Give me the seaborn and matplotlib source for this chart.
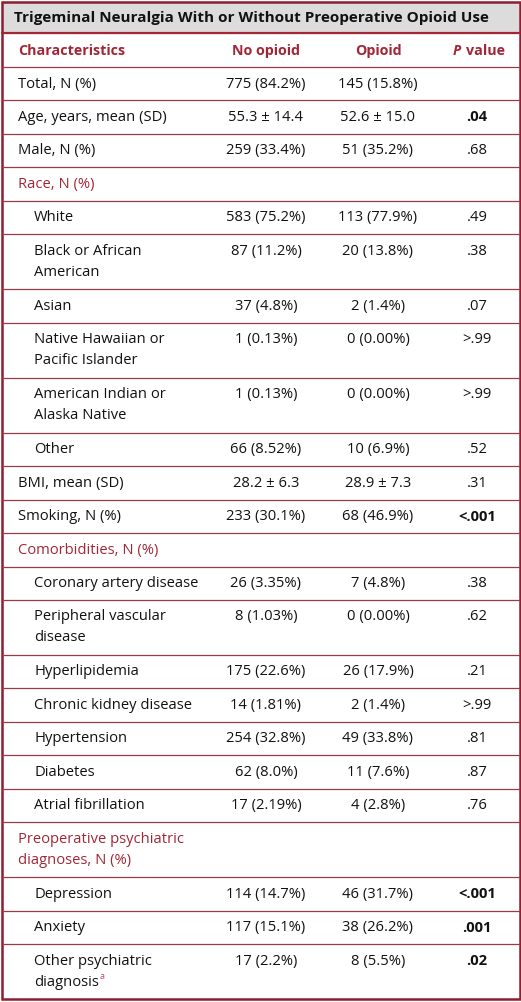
import matplotlib
matplotlib.use("Agg")
import matplotlib.pyplot as plt
import seaborn as sns

title = "Trigeminal Neuralgia With or Without Preoperative Opioid Use"
headers = ["Characteristics", "No opioid", "Opioid", "value"]

characteristics = [
    "Total, N (%)", "Age, years, mean (SD)", "Male, N (%)", "Race, N (%)",
    "White", "Black or African\nAmerican", "Asian",
    "Native Hawaiian or\nPacific Islander", "American Indian or\nAlaska Native",
    "Other", "BMI, mean (SD)", "Smoking, N (%)", "Comorbidities, N (%)",
    "Coronary artery disease", "Peripheral vascular\ndisease", "Hyperlipidemia",
    "Chronic kidney disease", "Hypertension", "Diabetes", "Atrial fibrillation",
    "Preoperative psychiatric\ndiagnoses, N (%)", "Depression", "Anxiety",
    "Other psychiatric\ndiagnosis",
]
row_kind = [
    "main", "main", "main", "section",
    "sub", "sub", "sub", "sub", "sub", "sub",
    "main", "main", "section",
    "sub", "sub", "sub", "sub", "sub", "sub", "sub",
    "section", "sub", "sub", "sub",
]
no_opioid = [
    "775 (84.2%)", "55.3 ± 14.4", "259 (33.4%)", "",
    "583 (75.2%)", "87 (11.2%)", "37 (4.8%)", "1 (0.13%)", "1 (0.13%)",
    "66 (8.52%)", "28.2 ± 6.3", "233 (30.1%)", "",
    "26 (3.35%)", "8 (1.03%)", "175 (22.6%)", "14 (1.81%)", "254 (32.8%)",
    "62 (8.0%)", "17 (2.19%)", "", "114 (14.7%)", "117 (15.1%)", "17 (2.2%)",
]
opioid = [
    "145 (15.8%)", "52.6 ± 15.0", "51 (35.2%)", "",
    "113 (77.9%)", "20 (13.8%)", "2 (1.4%)", "0 (0.00%)", "0 (0.00%)",
    "10 (6.9%)", "28.9 ± 7.3", "68 (46.9%)", "",
    "7 (4.8%)", "0 (0.00%)", "26 (17.9%)", "2 (1.4%)", "49 (33.8%)",
    "11 (7.6%)", "4 (2.8%)", "", "46 (31.7%)", "38 (26.2%)", "8 (5.5%)",
]
p_values = [
    "", ".04", ".68", "",
    ".49", ".38", ".07", ">.99", ">.99", ".52",
    ".31", "<.001", "",
    ".38", ".62", ".21", ">.99", ".81", ".87", ".76",
    "", "<.001", ".001", ".02",
]
significant = [p in (".04", "<.001", ".001", ".02") for p in p_values]
footnotes = {"Other psychiatric\ndiagnosis": "a"}

RED = "#a32636"
LINE = "#9a3a44"
W, H = 521, 1002

sns.set_theme(style="white")
plt.rcParams["font.family"] = ["Open Sans", "DejaVu Sans"]

fig = plt.figure(figsize=(W / 100, H / 100), dpi=100)
ax = fig.add_axes([0, 0, 1, 1])
ax.set_xlim(0, W)
ax.set_ylim(H, 0)
ax.axis("off")

fs = 10.6
hfs = 10.3
col_x = [18, 266, 378, 477]
title_h, head_h = 33, 34
one_line, two_line = 33.45, 55.0

# title band
ax.add_patch(plt.Rectangle((2, 2), W - 4, title_h - 2, color="#dcdcdc", zorder=0))
ax.text(14, title_h / 2 + 1, title, fontsize=11.0, fontweight="bold",
        va="center", ha="left", color="#111111")
ax.plot([2, W - 2], [title_h, title_h], color=RED, lw=1.6)

# header row
hy = title_h + head_h / 2 + 1
ax.text(col_x[0], hy, headers[0], color=RED, fontsize=hfs, fontweight="bold", va="center")
ax.text(col_x[1], hy, headers[1], color=RED, fontsize=hfs, fontweight="bold", va="center", ha="center")
ax.text(col_x[2], hy, headers[2], color=RED, fontsize=hfs, fontweight="bold", va="center", ha="center")
ax.text(col_x[3] - 20, hy, "P", color=RED, fontsize=hfs, fontweight="bold",
        fontstyle="italic", va="center", ha="center")
ax.text(col_x[3] + 9, hy, headers[3], color=RED, fontsize=hfs, fontweight="bold",
        va="center", ha="center")

y = title_h + head_h
ax.plot([2, W - 2], [y, y], color=LINE, lw=0.9)
fig.canvas.draw()
renderer = fig.canvas.get_renderer()

for i, label in enumerate(characteristics):
    lines = label.split("\n")
    h = one_line if len(lines) == 1 else two_line
    kind = row_kind[i]
    x0 = col_x[0] + (16 if kind == "sub" else 0)
    color = RED if kind == "section" else "#111111"
    for j, ln in enumerate(lines):
        t = ax.text(x0, y + 17 + j * 21, ln, fontsize=fs, color=color, va="center", ha="left")
    if label in footnotes:
        bb = t.get_window_extent(renderer).transformed(ax.transData.inverted())
        ax.text(bb.x1 + 0.5, y + 17 + (len(lines) - 1) * 21 - 6, footnotes[label],
                fontsize=6.5, color="#c0506a", va="center", ha="left")
    ax.text(col_x[1], y + 17, no_opioid[i], fontsize=fs, color="#111111", va="center", ha="center")
    ax.text(col_x[2], y + 17, opioid[i], fontsize=fs, color="#111111", va="center", ha="center")
    ax.text(col_x[3], y + 17, p_values[i], fontsize=fs, color="#111111", va="center",
            ha="center", fontweight="bold" if significant[i] else "normal")
    y += h
    if i < len(characteristics) - 1:
        ax.plot([2, W - 2], [y, y], color=LINE, lw=0.9)

# outer border
ax.add_patch(plt.Rectangle((1.5, 1.5), W - 3, y - 1.5, fill=False, edgecolor="#8e1f2f", lw=1.8))

fig.savefig("out.png", dpi=100)
